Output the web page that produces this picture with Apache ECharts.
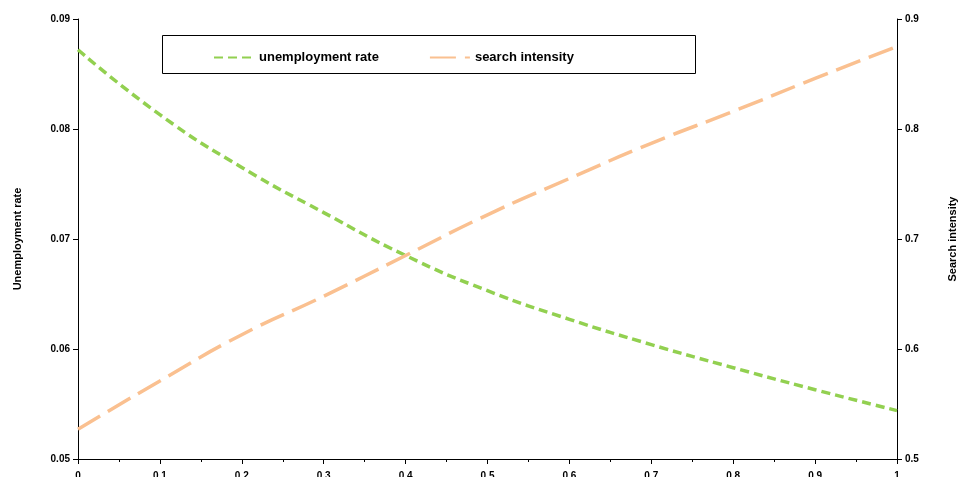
<!DOCTYPE html>
<html style="height: 100%">
<head>
<meta charset="UTF-8">
<script src="https://cdn.jsdelivr.net/npm/echarts/dist/echarts.min.js"></script>
</head>
<body style="height: 100%; margin: 0; background: #fff">
<div id="main" style="width:960px;height:477px"></div>
<script>
var xValues = [0, 0.1, 0.2, 0.3, 0.4, 0.5, 0.6, 0.7, 0.8, 0.9, 1];
var unemployment = [0.0872, 0.0813, 0.0765, 0.0724, 0.0685, 0.0653, 0.0627, 0.0604, 0.0583, 0.0563, 0.0544];
var searchIntensity = [0.527, 0.571, 0.613, 0.648, 0.685, 0.722, 0.755, 0.787, 0.816, 0.846, 0.875];

var font = 'Liberation Sans, Arial, sans-serif';
var chart = echarts.init(document.getElementById('main'));
chart.setOption({
    animation: false,
    grid: { left: 78, right: 63, top: 19, bottom: 18, containLabel: false, outerBoundsMode: 'none' },
    graphic: [{
        type: 'rect', left: 162, top: 35,
        shape: { width: 533, height: 38 },
        style: { fill: '#fff', stroke: '#000', lineWidth: 1 }
    }],
    legend: {
        left: 208, top: 46, itemGap: 50, itemWidth: 40,
        itemStyle: { opacity: 0 },
        textStyle: { fontFamily: font, fontWeight: 'bold', fontSize: 13, color: '#000' },
        data: ['unemployment rate', 'search intensity']
    },
    xAxis: {
        type: 'value', min: 0, max: 1, interval: 0.1,
        axisLine: { lineStyle: { color: '#000' } },
        axisTick: { lineStyle: { color: '#000' } },
        minorTick: { show: true, splitNumber: 2, lineStyle: { color: '#000' } },
        splitLine: { show: false },
        axisLabel: { fontFamily: font, fontWeight: 'bold', fontSize: 10, color: '#000', margin: 12 }
    },
    yAxis: [{
        type: 'value', min: 0.05, max: 0.09, interval: 0.01,
        name: 'Unemployment rate', nameLocation: 'middle', nameGap: 55,
        nameTextStyle: { fontFamily: font, fontWeight: 'bold', fontSize: 11, color: '#000' },
        axisLine: { show: true, lineStyle: { color: '#000' } },
        axisTick: { show: true, lineStyle: { color: '#000' } },
        splitLine: { show: false },
        axisLabel: { fontFamily: font, fontWeight: 'bold', fontSize: 10, color: '#000' }
    }, {
        type: 'value', min: 0.5, max: 0.9, interval: 0.1,
        name: 'Search intensity', nameLocation: 'middle', nameGap: 50, nameRotate: 90,
        nameTextStyle: { fontFamily: font, fontWeight: 'bold', fontSize: 11, color: '#000' },
        axisLine: { show: true, lineStyle: { color: '#000' } },
        axisTick: { show: true, lineStyle: { color: '#000' } },
        splitLine: { show: false },
        axisLabel: { fontFamily: font, fontWeight: 'bold', fontSize: 10, color: '#000' }
    }],
    series: [{
        name: 'unemployment rate', type: 'line', smooth: true, symbol: 'none',
        data: xValues.map(function (x, i) { return [x, unemployment[i]]; }),
        itemStyle: { color: '#92d050' },
        lineStyle: { color: '#92d050', width: 3.5, type: [9, 5] }
    }, {
        name: 'search intensity', type: 'line', smooth: true, symbol: 'none', yAxisIndex: 1,
        data: xValues.map(function (x, i) { return [x, searchIntensity[i]]; }),
        itemStyle: { color: '#fac090' },
        lineStyle: { color: '#fac090', width: 3.5, type: [26, 9] }
    }]
});
</script>
</body>
</html>
